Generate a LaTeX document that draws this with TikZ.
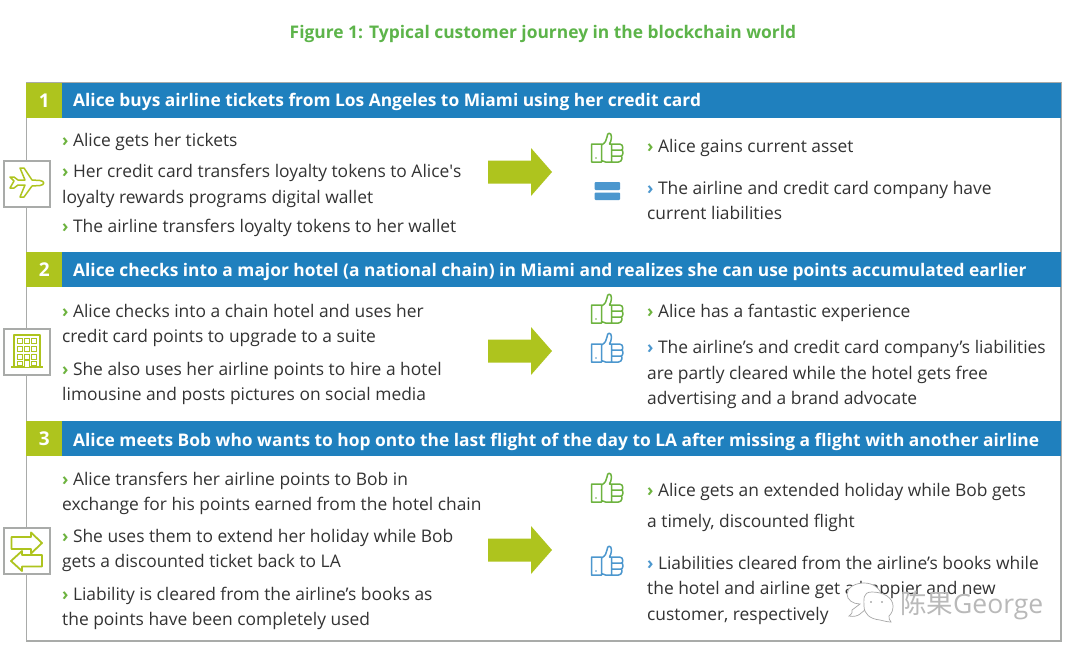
\documentclass[tikz,border=0pt]{standalone}
\usepackage{fontspec}
\setmainfont[Ligatures=NoCommon]{Open Sans}
\newfontfamily\cjkf{Noto Sans CJK SC}
\newfontfamily\plainf{Open Sans}
\definecolor{bluebar}{HTML}{1F80BE}
\definecolor{limeg}{HTML}{AEC41E}
\definecolor{titleg}{HTML}{5DB44A}
\definecolor{thumbg}{HTML}{6DB33F}
\definecolor{thumbb}{HTML}{4C97CE}
\definecolor{framec}{HTML}{A9ABA9}
\definecolor{bodyt}{HTML}{333333}
\newcommand{\gc}{{\color{thumbg}\bfseries ›}\hspace{4.4pt}}
\newcommand{\bc}{{\color{thumbb}\bfseries ›}\hspace{4.4pt}}
\tikzset{
  frameline/.style={draw=framec,line width=1.6pt},
  headbar/.style={fill=bluebar,draw=none,minimum height=35pt,minimum width=999pt,anchor=north west,inner sep=0},
  numbox/.style={fill=limeg,draw=none,minimum height=35pt,minimum width=36pt,anchor=north west,inner sep=0,text=white,font=\fontsize{19}{19}\selectfont\bfseries},
  headtxt/.style={anchor=base west,inner sep=0,yshift=-0.7pt,text=white,font=\fontsize{17.37}{17.37}\selectfont\bfseries},
  bodytxt/.style={anchor=base west,inner sep=0,yshift=-0.7pt,text=bodyt,font=\fontsize{17.4}{17.4}\selectfont},
  iconbox/.style={draw=framec,fill=white,line width=1.8pt,minimum width=46pt,minimum height=46pt,inner sep=0,anchor=north west},
  bigarrow/.style={fill=limeg,draw=none},
  iconline/.style={draw=limeg,line width=1.5pt,line join=round,fill=none},
  thumbicon/.pic={
    \draw[line width=1.5pt,line join=round,draw=#1]
      (0,12) rectangle (10,30)
      (10,13) .. controls (14,11) and (15,8) .. (15.5,5) .. controls (15.5,0) and (20,0) .. (20,5) .. controls (20,8) and (19,10) .. (18,12)
      -- (28,12) .. controls (32,12) and (32,18) .. (30,18)
      .. controls (32,18) and (32,24) .. (29.5,24) .. controls (31,24) and (31,30) .. (27,30) -- (14,30) -- (10,28.5)
      (20,18) -- (30,18) (20,24) -- (29.5,24) (20,12) -- (20,30);
    \fill[#1] (4.5,26) circle (0.9);
  },
}
\begin{document}
\begin{tikzpicture}[x=1pt,y=-1pt]
\useasboundingbox (0,0) rectangle (1080,654);
\fill[white] (0,0) rectangle (1080,654);
\node[anchor=base,inner sep=0,text=titleg,font=\fontsize{17.4}{17.4}\selectfont\bfseries] (title) at (543,38) {Figure 1: Typical customer journey in the blockchain world};
\draw[frameline] (26.5,83) rectangle (1061,641);
% row 1
\node[headbar] (h1) at (62,83) {};
\node[numbox] (n1) at (26,83) {1};
\node[headtxt] (ht1) at (73,105.5) {Alice buys airline tickets from Los Angeles to Miami using her credit card};
\node[bodytxt] (a1) at (62,145.5) {\gc Alice gets her tickets};
\node[bodytxt] (a2) at (62,176.5) {\gc Her credit card transfers loyalty tokens to Alice{\plainf\symbol{39}}s};
\node[bodytxt] (a3) at (62,202.5) {loyalty rewards programs digital wallet};
\node[bodytxt] (a4) at (62,232) {\gc The airline transfers loyalty tokens to her wallet};
\node[bodytxt] (b1) at (647,151.5) {\gc Alice gains current asset};
\node[bodytxt] (b2) at (647,194) {\bc The airline and credit card company have};
\node[bodytxt] (b3) at (647,219) {current liabilities};
% row 2
\node[headbar] (h2) at (62,252) {};
\node[numbox] (n2) at (26,252) {2};
\node[headtxt] (ht2) at (73,275.5) {Alice checks into a major hotel (a national chain) in Miami and realizes she can use points accumulated earlier};
\node[bodytxt] (c1) at (62,317) {\gc Alice checks into a chain hotel and uses her};
\node[bodytxt] (c2) at (62,342) {credit card points to upgrade to a suite};
\node[bodytxt] (c3) at (62,374.5) {\gc She also uses her airline points to hire a hotel};
\node[bodytxt] (c4) at (62,399.5) {limousine and posts pictures on social media};
\node[bodytxt] (d1) at (647,316.5) {\gc Alice has a fantastic experience};
\node[bodytxt] (d2) at (647,353) {\bc The airline’s and credit card company’s liabilities};
\node[bodytxt] (d3) at (647,378.5) {are partly cleared while the hotel gets free};
\node[bodytxt] (d4) at (647,403.5) {advertising and a brand advocate};
% row 3
\node[headbar] (h3) at (62,421) {};
\node[numbox] (n3) at (26,421) {3};
\node[headtxt] (ht3) at (73,445.5) {Alice meets Bob who wants to hop onto the last flight of the day to LA after missing a flight with another airline};
\node[bodytxt] (e1) at (62,484.5) {\gc Alice transfers her airline points to Bob in};
\node[bodytxt] (e2) at (62,509.5) {exchange for his points earned from the hotel chain};
\node[bodytxt] (e3) at (62,542) {\gc She uses them to extend her holiday while Bob};
\node[bodytxt] (e4) at (62,567) {gets a discounted ticket back to LA};
\node[bodytxt] (e5) at (62,600) {\gc Liability is cleared from the airline’s books as};
\node[bodytxt] (e6) at (62,625) {the points have been completely used};
\node[bodytxt] (f1) at (647,496) {\gc Alice gets an extended holiday while Bob gets};
\node[bodytxt] (f2) at (647,526.5) {a timely, discounted flight};
\node[bodytxt] (f3) at (647,569) {\bc Liabilities cleared from the airline’s books while};
\node[bodytxt] (f4) at (647,594) {the hotel and airline get a happier and new};
\node[bodytxt] (f5) at (647,619.5) {customer, respectively};
% arrows
\foreach \yy in {172,351,550}{
  \fill[bigarrow] (488,\yy-11.5) -- (531,\yy-11.5) -- (531,\yy-24) -- (552,\yy) -- (531,\yy+24) -- (531,\yy+11.5) -- (488,\yy+11.5) -- cycle;
}
% thumbs
\pic at (591.5,132) {thumbicon=thumbg};
\pic at (591.5,293) {thumbicon=thumbg};
\pic at (591.5,332) {thumbicon=thumbb};
\pic at (591.5,472) {thumbicon=thumbg};
\pic at (591.5,545) {thumbicon=thumbb};
% equals
\fill[thumbb,rounded corners=1pt] (594.5,182) rectangle (620,190);
\fill[thumbb,rounded corners=1pt] (594.5,192.5) rectangle (620,200);
% plane
\node[iconbox] (i1) at (3,160) {};
\draw[iconline] (10,177) -- (14,181) -- (10,188) -- (14,188) -- (18,185) -- (25,185)
  -- (20,197) -- (24,197) -- (32,186) -- (40,185.5) .. controls (45,185) and (45,181) .. (40,180.5)
  -- (32,180) -- (24,168) -- (20,168) -- (25,180) -- (18,180) -- (14,177) -- cycle;
% building
\node[iconbox] (i2) at (3,328) {};
\draw[iconline] (14,335) rectangle (40,367);
\draw[iconline] (11,367) -- (43,367);
\foreach \xx in {17.5,24.5,31.5}\foreach \yy in {338,346,354}{
  \draw[limeg,line width=1pt] (\xx,\yy) rectangle ++(5,5.5);
}
\draw[limeg,fill=white,line width=1pt] (24.5,360) rectangle ++(5,7);
\draw[limeg,line width=1pt] (17.5,361) rectangle ++(5,4);
\draw[limeg,line width=1pt] (31.5,361) rectangle ++(5,4);
% exchange
\node[iconbox] (i3) at (3,527) {};
\draw[iconline,line width=1.8pt] (11.5,537) -- (31,537) -- (31,532.5) -- (42,543) -- (31,553.5) -- (31,549) -- (11.5,549) -- cycle;
\draw[iconline,line width=1.8pt] (42,555) -- (22,555) -- (22,551) -- (11,561) -- (22,571) -- (22,566.5) -- (42,566.5) -- cycle;
% watermark
\draw[gray!70,fill=white,line width=.7pt] (860,604) .. controls (853,604) and (847,600) .. (847,594) .. controls (847,587) and (856,583) .. (864,583) .. controls (873,583) and (880,588) .. (882,596) -- (860,614) .. controls (858,616) and (853,617) .. (849,616) .. controls (852,614) and (853,611) .. (852,610) -- cycle;
\draw[gray!70,fill=white,line width=.7pt] (872,592) .. controls (862,592) and (864,600) .. (864,606) .. controls (864,614) and (870,619) .. (880,620) .. controls (884,621) and (888,622) .. (891,622) .. controls (889,620) and (889,618) .. (889,616) .. controls (892,613) and (893,610) .. (893,606) .. controls (893,598) and (884,592) .. (872,592) -- cycle;
\fill[gray] (871,602) circle (.8) (882,602) circle (.8);
\node[anchor=base west,inner sep=0,text=gray!55,font=\fontsize{26.5}{26.5}\selectfont] (wm) at (900,613) {{\cjkf 陈果}George};
\end{tikzpicture}
\end{document}
